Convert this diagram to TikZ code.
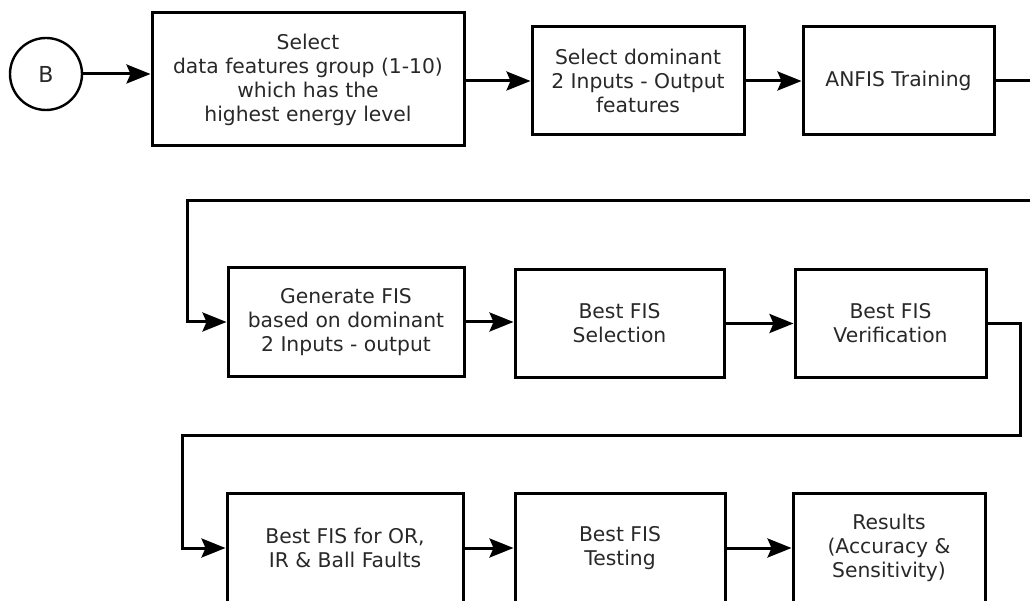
\documentclass[tikz,border=0pt]{standalone}
\usepackage{fontspec}
\setmainfont{DejaVu Sans}
\usetikzlibrary{arrows.meta}
\definecolor{txt}{RGB}{40,40,40}
\tikzset{
  box/.style={draw=black, line width=3pt, align=center, inner sep=2pt, text=txt,
    font=\fontsize{20.3}{24}\selectfont},
  conn/.style={line width=3pt, -{Stealth[length=24pt,width=19pt,inset=4pt]}},
  plain/.style={line width=3pt}
}
\begin{document}
\begin{tikzpicture}[x=1pt,y=-1pt]
\useasboundingbox (0,0) rectangle (1030,601);
\clip (0,0) rectangle (1030,601);
\node[circle, draw, line width=2.4pt, minimum size=72pt, text=txt,
  font=\fontsize{22}{24}\selectfont] (B) at (46,74) {B};
\node[box, minimum width=312pt, minimum height=133pt] (s1) at (308,79.5)
  {Select\\data features group (1-10)\\which has the\\highest energy level};
\node[box, minimum width=212pt, minimum height=108pt] (s2) at (638,81)
  {Select dominant\\2 Inputs - Output\\features};
\node[box, minimum width=191pt, minimum height=108pt] (s3) at (898.5,81)
  {ANFIS Training};
\node[box, minimum width=236pt, minimum height=108pt] (g) at (346,322)
  {Generate FIS\\based on dominant\\2 Inputs - output};
\node[box, minimum width=209pt, minimum height=107pt] (sel) at (619.5,323.5)
  {Best FIS\\Selection};
\node[box, minimum width=191pt, minimum height=107pt] (ver) at (890.5,323.5)
  {Best FIS\\Verification};
\node[box, minimum width=236pt, minimum height=110pt] (or) at (345,548)
  {Best FIS for OR,\\IR \& Ball Faults};
\node[box, minimum width=210pt, minimum height=110pt] (tst) at (620,548)
  {Best FIS\\Testing};
\node[box, minimum width=192pt, minimum height=110pt] (res) at (889,548)
  {Results\\(Accuracy \&\\Sensitivity)};
\coordinate (e1) at (1034,81);
\coordinate (e2) at (1034,201);
\coordinate (k1) at (187,201);
\coordinate (k2) at (1020,435);
\coordinate (k3) at (182,435);
\draw[conn] (B.east) -- (B.east -| s1.west);
\draw[conn] (s2.west -| s1.east) -- (s2.west);
\draw[conn] (s2.east) -- (s3.west);
\draw[plain] (s3.east) -- (e1);
\draw[conn] (e2) -- (k1) |- (g.west);
\draw[conn] (g.east) -- (g.east -| sel.west);
\draw[conn] (sel.east) -- (sel.east -| ver.west);
\draw[conn] (ver.east) -| (k2) -- (k3) |- (or.west);
\draw[conn] (or.east) -- (or.east -| tst.west);
\draw[conn] (tst.east) -- (tst.east -| res.west);
\end{tikzpicture}
\end{document}
